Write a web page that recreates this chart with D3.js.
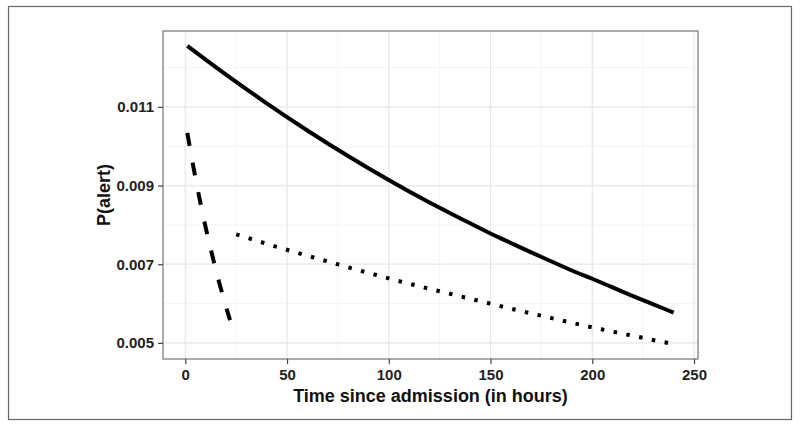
<!DOCTYPE html>
<html>
<head>
<meta charset="utf-8">
<script src="https://cdn.jsdelivr.net/npm/d3@7"></script>
<style>
  body { margin: 0; background: #fff; }
  text { font-family: "Liberation Sans", Arial, sans-serif; font-weight: bold; }
</style>
</head>
<body>
<div id="chart"></div>
<script>
// solid curve
var solidHours = [1, 10, 20, 30, 40, 50, 60, 70, 80, 90, 100, 110, 120, 130, 140, 150, 160, 170, 180, 190, 200, 210, 220, 230, 240];
var solidValues = [0.01255, 0.01220, 0.01182, 0.01145, 0.01109, 0.01074, 0.01040, 0.01007, 0.00975, 0.00944, 0.00914, 0.00885, 0.00857, 0.00830, 0.00804, 0.00778, 0.00754, 0.00730, 0.00707, 0.00684, 0.00663, 0.00641, 0.00619, 0.00598, 0.00577];

// dashed curve (first day)
var dashedHours = [1, 4, 7, 10, 13, 16, 19, 22];
var dashedValues = [0.01034, 0.00947, 0.00867, 0.00794, 0.00728, 0.00666, 0.00610, 0.00558];

// dotted curve (after first day)
var dottedHours = [25, 40, 55, 70, 85, 100, 115, 130, 145, 160, 175, 190, 205, 220, 235, 240];
var dottedValues = [0.00776, 0.00752, 0.00729, 0.00707, 0.00685, 0.00664, 0.00644, 0.00625, 0.00606, 0.00587, 0.00569, 0.00551, 0.00534, 0.00518, 0.00502, 0.00497];

var xTicks = [0, 50, 100, 150, 200, 250];
var xMinor = [25, 75, 125, 175, 225];
var yTicks = [0.005, 0.007, 0.009, 0.011];
var yMinor = [0.006, 0.008, 0.010, 0.012];

var width = 800, height = 427;
var panel = {left: 163, top: 31, right: 698, bottom: 359};

var svg = d3.select("#chart").append("svg")
    .attr("width", width)
    .attr("height", height);

// outer frame
svg.append("rect")
    .attr("x", 8.5).attr("y", 6.5)
    .attr("width", 783).attr("height", 413)
    .attr("fill", "#fff")
    .attr("stroke", "#666")
    .attr("stroke-width", 1.2);

var x = d3.scaleLinear().domain([-10.95, 251.95]).range([panel.left, panel.right]);
var y = d3.scaleLinear().domain([0.00459, 0.01293]).range([panel.bottom, panel.top]);

var grid = svg.append("g");
grid.selectAll(".xminor").data(xMinor).enter().append("line")
    .attr("x1", d => x(d)).attr("x2", d => x(d))
    .attr("y1", panel.top).attr("y2", panel.bottom)
    .attr("stroke", "#f4f4f4").attr("stroke-width", 1);
grid.selectAll(".yminor").data(yMinor).enter().append("line")
    .attr("y1", d => y(d)).attr("y2", d => y(d))
    .attr("x1", panel.left).attr("x2", panel.right)
    .attr("stroke", "#f4f4f4").attr("stroke-width", 1);
grid.selectAll(".xmajor").data(xTicks).enter().append("line")
    .attr("x1", d => x(d)).attr("x2", d => x(d))
    .attr("y1", panel.top).attr("y2", panel.bottom)
    .attr("stroke", "#e6e6e6").attr("stroke-width", 1.2);
grid.selectAll(".ymajor").data(yTicks).enter().append("line")
    .attr("y1", d => y(d)).attr("y2", d => y(d))
    .attr("x1", panel.left).attr("x2", panel.right)
    .attr("stroke", "#e6e6e6").attr("stroke-width", 1.2);

function series(hours, values) {
    return hours.map(function(h, i){ return [h, values[i]]; });
}

var line = d3.line()
    .x(d => x(d[0]))
    .y(d => y(d[1]))
    .curve(d3.curveMonotoneX);

svg.append("path")
    .datum(series(solidHours, solidValues))
    .attr("d", line)
    .attr("fill", "none")
    .attr("stroke", "#000")
    .attr("stroke-width", 4);

svg.append("path")
    .datum(series(dashedHours, dashedValues))
    .attr("d", line)
    .attr("fill", "none")
    .attr("stroke", "#000")
    .attr("stroke-width", 4)
    .attr("stroke-dasharray", "13,17");

svg.append("path")
    .datum(series(dottedHours, dottedValues))
    .attr("d", line)
    .attr("fill", "none")
    .attr("stroke", "#000")
    .attr("stroke-width", 4)
    .attr("stroke-dasharray", "3.5,9.5");

// panel border
svg.append("rect")
    .attr("x", panel.left).attr("y", panel.top)
    .attr("width", panel.right - panel.left)
    .attr("height", panel.bottom - panel.top)
    .attr("fill", "none")
    .attr("stroke", "#7f7f7f")
    .attr("stroke-width", 1.3);

// axes
var xAxis = svg.append("g")
    .attr("transform", "translate(0," + panel.bottom + ")")
    .call(d3.axisBottom(x).tickValues(xTicks).tickSize(5).tickPadding(5).tickFormat(d3.format("d")));
var yAxis = svg.append("g")
    .attr("transform", "translate(" + panel.left + ",0)")
    .call(d3.axisLeft(y).tickValues(yTicks).tickSize(5).tickPadding(4).tickFormat(d3.format(".3f")));

[xAxis, yAxis].forEach(function(g){
    g.select(".domain").remove();
    g.selectAll(".tick line").attr("stroke", "#444").attr("stroke-width", 1.2);
    g.selectAll(".tick text")
        .attr("fill", "#222")
        .style("font-size", "15px")
        .style("font-family", "Liberation Sans, Arial, sans-serif")
        .style("font-weight", "bold");
});

svg.append("text")
    .attr("x", (panel.left + panel.right) / 2)
    .attr("y", 402)
    .attr("text-anchor", "middle")
    .style("font-size", "18px")
    .attr("fill", "#111")
    .text("Time since admission (in hours)");

svg.append("text")
    .attr("transform", "translate(110," + ((panel.top + panel.bottom) / 2) + ") rotate(-90)")
    .attr("text-anchor", "middle")
    .style("font-size", "18px")
    .attr("fill", "#111")
    .text("P(alert)");
</script>
</body>
</html>
